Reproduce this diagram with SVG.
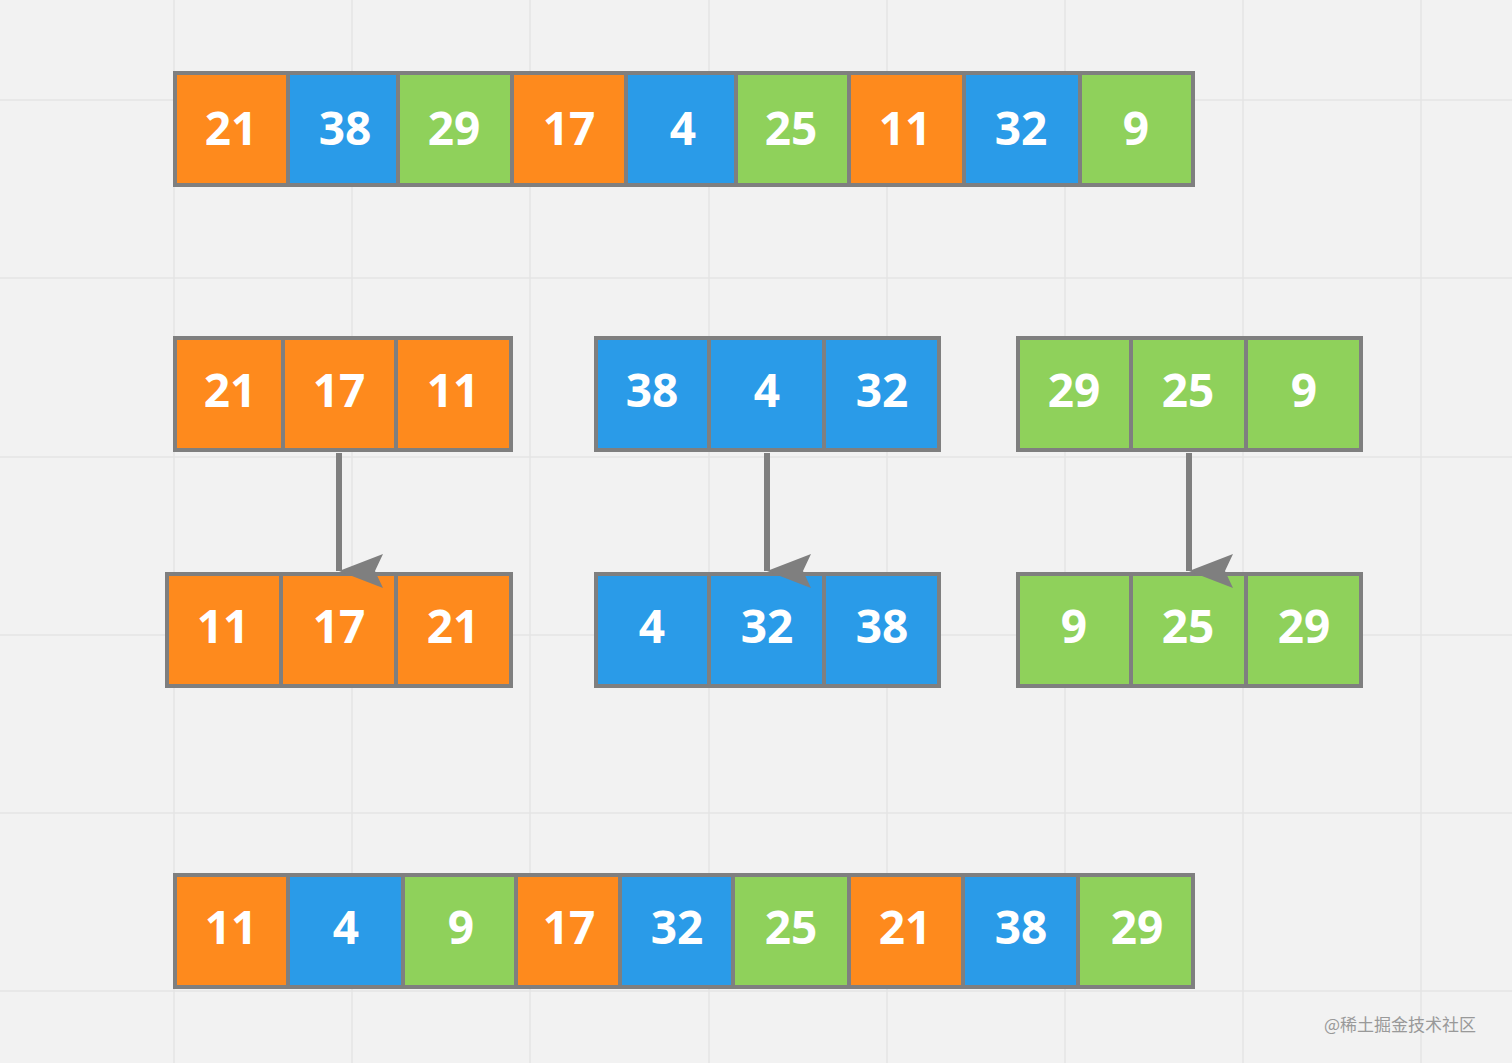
<svg xmlns="http://www.w3.org/2000/svg" width="1512" height="1063" viewBox="0 0 1512 1063">
<style>
.o{fill:#FE8A1D}.b{fill:#2A9BE8}.g{fill:#8FD15B}
rect.c{stroke:#7F7F7F;stroke-width:4}
text{font-family:"Open Sans","Liberation Sans",sans-serif;font-weight:bold;font-size:46px;fill:#fff;text-anchor:middle}
.grid line{stroke:#E4E4E4;stroke-width:1.5}
.wm{font-family:"Noto Sans CJK SC",sans-serif;font-weight:normal;font-size:17px;fill:#999;text-anchor:start}
</style>
<defs><marker id="ah" markerUnits="userSpaceOnUse" markerWidth="34" markerHeight="44" refX="17" refY="44" orient="auto-start-reverse" viewBox="0 0 34 44"><path d="M0,0 L17,44 L34,0 L17,8 Z" fill="#7F7F7F"/></marker></defs>
<rect width="1512" height="1063" fill="#F2F2F2"/>
<g class="grid">
<line x1="174" y1="0" x2="174" y2="1063"/><line x1="352" y1="0" x2="352" y2="1063"/><line x1="530" y1="0" x2="530" y2="1063"/><line x1="709" y1="0" x2="709" y2="1063"/><line x1="887" y1="0" x2="887" y2="1063"/><line x1="1065" y1="0" x2="1065" y2="1063"/><line x1="1243" y1="0" x2="1243" y2="1063"/><line x1="1421" y1="0" x2="1421" y2="1063"/>
<line x1="0" y1="100" x2="1512" y2="100"/><line x1="0" y1="278" x2="1512" y2="278"/><line x1="0" y1="457" x2="1512" y2="457"/><line x1="0" y1="635" x2="1512" y2="635"/><line x1="0" y1="813" x2="1512" y2="813"/><line x1="0" y1="991" x2="1512" y2="991"/>
</g>
<g id="row1">
<rect class="c o" x="175" y="73" width="113" height="112"/><text x="231" y="145">21</text>
<rect class="c b" x="288" y="73" width="110" height="112"/><text x="345" y="145">38</text>
<rect class="c g" x="398" y="73" width="114" height="112"/><text x="454" y="145">29</text>
<rect class="c o" x="512" y="73" width="114" height="112"/><text x="569" y="145">17</text>
<rect class="c b" x="626" y="73" width="110" height="112"/><text x="683" y="145">4</text>
<rect class="c g" x="736" y="73" width="113" height="112"/><text x="791" y="145">25</text>
<rect class="c o" x="849" y="73" width="115" height="112"/><text x="905" y="145">11</text>
<rect class="c b" x="964" y="73" width="116" height="112"/><text x="1021" y="145">32</text>
<rect class="c g" x="1080" y="73" width="113" height="112"/><text x="1136" y="145">9</text>
</g>
<g id="groupA">
<rect class="c o" x="175" y="338" width="108" height="112"/><text x="230" y="407">21</text>
<rect class="c o" x="283" y="338" width="113" height="112"/><text x="339" y="407">17</text>
<rect class="c o" x="396" y="338" width="115" height="112"/><text x="453" y="407">11</text>
</g>
<g id="groupB">
<rect class="c b" x="596" y="338" width="113" height="112"/><text x="652" y="407">38</text>
<rect class="c b" x="709" y="338" width="115" height="112"/><text x="767" y="407">4</text>
<rect class="c b" x="824" y="338" width="115" height="112"/><text x="882" y="407">32</text>
</g>
<g id="groupC">
<rect class="c g" x="1018" y="338" width="113" height="112"/><text x="1074" y="407">29</text>
<rect class="c g" x="1131" y="338" width="115" height="112"/><text x="1188" y="407">25</text>
<rect class="c g" x="1246" y="338" width="115" height="112"/><text x="1304" y="407">9</text>
</g>
<g id="sortedA">
<rect class="c o" x="167" y="574" width="114" height="112"/><text x="223" y="643">11</text>
<rect class="c o" x="281" y="574" width="115" height="112"/><text x="339" y="643">17</text>
<rect class="c o" x="396" y="574" width="115" height="112"/><text x="453" y="643">21</text>
</g>
<g id="sortedB">
<rect class="c b" x="596" y="574" width="113" height="112"/><text x="652" y="643">4</text>
<rect class="c b" x="709" y="574" width="115" height="112"/><text x="767" y="643">32</text>
<rect class="c b" x="824" y="574" width="115" height="112"/><text x="882" y="643">38</text>
</g>
<g id="sortedC">
<rect class="c g" x="1018" y="574" width="113" height="112"/><text x="1074" y="643">9</text>
<rect class="c g" x="1131" y="574" width="115" height="112"/><text x="1188" y="643">25</text>
<rect class="c g" x="1246" y="574" width="115" height="112"/><text x="1304" y="643">29</text>
</g>
<g id="row4">
<rect class="c o" x="175" y="875" width="113" height="112"/><text x="231" y="944">11</text>
<rect class="c b" x="288" y="875" width="115" height="112"/><text x="346" y="944">4</text>
<rect class="c g" x="403" y="875" width="113" height="112"/><text x="461" y="944">9</text>
<rect class="c o" x="516" y="875" width="104" height="112"/><text x="569" y="944">17</text>
<rect class="c b" x="620" y="875" width="113" height="112"/><text x="677" y="944">32</text>
<rect class="c g" x="733" y="875" width="116" height="112"/><text x="791" y="944">25</text>
<rect class="c o" x="849" y="875" width="114" height="112"/><text x="905" y="944">21</text>
<rect class="c b" x="963" y="875" width="115" height="112"/><text x="1021" y="944">38</text>
<rect class="c g" x="1078" y="875" width="115" height="112"/><text x="1137" y="944">29</text>
</g>
<g id="connectors" stroke="#7F7F7F" stroke-width="6" fill="none">
<line x1="339" y1="453" x2="339" y2="571" marker-end="url(#ah)"/>
<line x1="767" y1="453" x2="767" y2="571" marker-end="url(#ah)"/>
<line x1="1189" y1="453" x2="1189" y2="571" marker-end="url(#ah)"/>
</g>
<text class="wm" x="1324" y="1031">@稀土掘金技术社区</text>
</svg>
